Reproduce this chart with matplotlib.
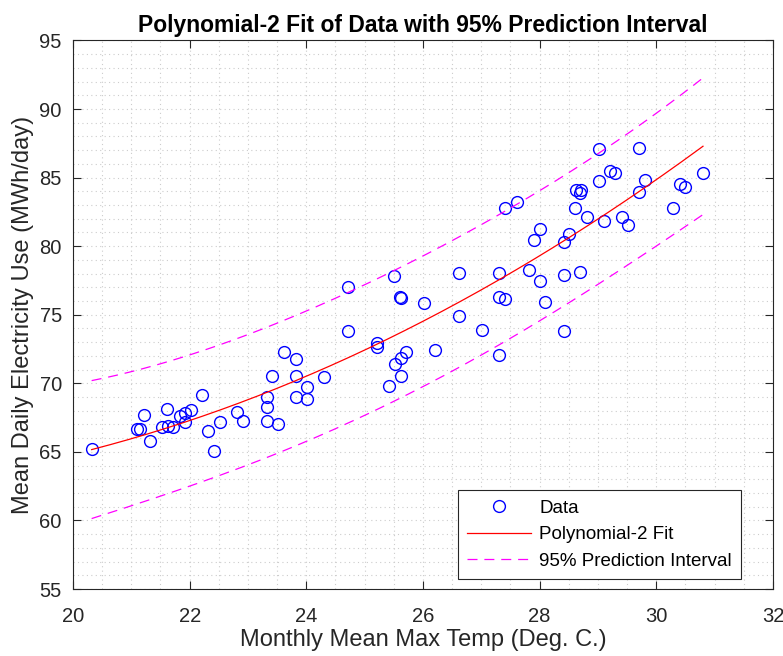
import matplotlib.pyplot as plt
import numpy as np
from matplotlib.ticker import MultipleLocator

plt.rcParams["font.family"] = ["Liberation Sans", "DejaVu Sans"]

# monthly mean max temperature (deg C)
temp = [
    20.32, 21.10, 21.15, 21.22, 21.32, 21.52, 21.62, 21.63, 21.72, 21.83,
    21.92, 22.02, 21.92, 22.22, 22.32, 22.42, 22.52, 22.82, 22.92, 23.32,
    23.32, 23.32, 23.42, 23.51, 23.62, 23.82, 23.82, 23.82, 24.01, 24.01,
    24.30, 24.71, 24.71, 25.21, 25.21, 25.42, 25.50, 25.52, 25.61, 25.62,
    25.62, 25.62, 25.71, 26.01, 26.21, 26.61, 26.61, 27.01, 27.30, 27.30,
    27.30, 27.41, 27.41, 27.61, 27.81, 27.91, 28.01, 28.01, 28.10, 28.41,
    28.41, 28.41, 28.50, 28.61, 28.63, 28.71, 28.69, 28.70, 28.81, 29.01,
    29.02, 29.10, 29.21, 29.30, 29.41, 29.51, 29.70, 29.70, 29.81, 30.29,
    30.41, 30.50, 30.80,
]
# mean daily electricity use (MWh/day)
usage = [
    65.23, 66.67, 66.65, 67.66, 65.77, 66.79, 68.12, 66.90, 66.80, 67.60,
    67.84, 68.08, 67.15, 69.12, 66.50, 65.04, 67.15, 67.93, 67.22, 69.00,
    68.29, 67.27, 70.55, 67.05, 72.32, 71.77, 70.53, 68.97, 69.70, 68.83,
    70.43, 77.02, 73.83, 72.93, 72.64, 69.78, 77.86, 71.40, 76.33, 76.20,
    71.84, 70.50, 72.28, 75.85, 72.40, 78.01, 74.93, 73.88, 78.06, 76.33,
    72.06, 76.17, 82.82, 83.19, 78.28, 80.47, 81.27, 77.43, 75.90, 80.27,
    77.92, 73.83, 80.88, 82.78, 84.11, 84.11, 83.87, 78.11, 82.10, 84.77,
    87.10, 81.85, 85.50, 85.37, 82.12, 81.54, 87.15, 83.94, 84.82, 82.75,
    84.52, 84.28, 85.33,
]

x = np.array(temp)
y = np.array(usage)

# quadratic fit and 95% prediction interval
X = np.vstack([x**2, x, np.ones_like(x)]).T
coef, *_ = np.linalg.lstsq(X, y, rcond=None)
resid = y - X @ coef
dof = len(x) - 3
s = np.sqrt(resid @ resid / dof)
t95 = 1.9897  # t(0.975, ~80 dof)
XtX_inv = np.linalg.inv(X.T @ X)

xf = np.linspace(x.min(), x.max(), 200)
Xf = np.vstack([xf**2, xf, np.ones_like(xf)]).T
yf = Xf @ coef
half = t95 * s * np.sqrt(1 + np.einsum("ij,jk,ik->i", Xf, XtX_inv, Xf))

fig = plt.figure(figsize=(7.83, 6.56), dpi=100)
ax = fig.add_axes([0.0932, 0.1021, 0.894, 0.8362])

ax.plot(x, y, "o", mfc="none", mec="blue", ms=8.5, mew=1.0, label="Data")
ax.plot(xf, yf, "-", color="red", lw=0.9, label="Polynomial-2 Fit")
ax.plot(xf, yf + half, "--", color="magenta", lw=0.9, dashes=(8, 5.5),
        label="95% Prediction Interval")
ax.plot(xf, yf - half, "--", color="magenta", lw=0.9, dashes=(8, 5.5))

ax.set_xlim(20, 32)
ax.set_ylim(55, 95)
ax.xaxis.set_major_locator(MultipleLocator(2))
ax.yaxis.set_major_locator(MultipleLocator(5))
ax.xaxis.set_minor_locator(MultipleLocator(0.5))
ax.yaxis.set_minor_locator(MultipleLocator(1))
ax.grid(which="both", color="#cccccc", linestyle=(0, (1, 3)), linewidth=0.8)
ax.set_axisbelow(True)
ax.tick_params(which="major", direction="in", length=6, width=0.8,
               top=True, right=True, labelsize=14.5, colors="#262626",
               labelcolor="#262626")
ax.tick_params(axis="x", which="major", pad=13)
ax.tick_params(axis="y", which="major", pad=8)
ax.tick_params(which="minor", length=0, top=True, right=True)
for sp in ax.spines.values():
    sp.set_color("#262626")
    sp.set_linewidth(0.8)

ax.set_title("Polynomial-2 Fit of Data with 95% Prediction Interval",
             fontsize=16.5, fontweight="bold", pad=6)
ax.set_xlabel("Monthly Mean Max Temp (Deg. C.)", fontsize=17,
              color="#262626", labelpad=2)
ax.set_ylabel("Mean Daily Electricity Use (MWh/day)", fontsize=17,
              color="#262626", labelpad=4)

leg = ax.legend(loc="lower right", bbox_to_anchor=(0.955, 0.0182),
                fontsize=13.5, frameon=True, fancybox=False, framealpha=1,
                edgecolor="#262626", handlelength=3.4, handletextpad=0.45,
                borderpad=0.5, labelspacing=0.5, borderaxespad=0)
leg.get_frame().set_linewidth(0.8)

fig.savefig("out.png", dpi=100, facecolor="white")
